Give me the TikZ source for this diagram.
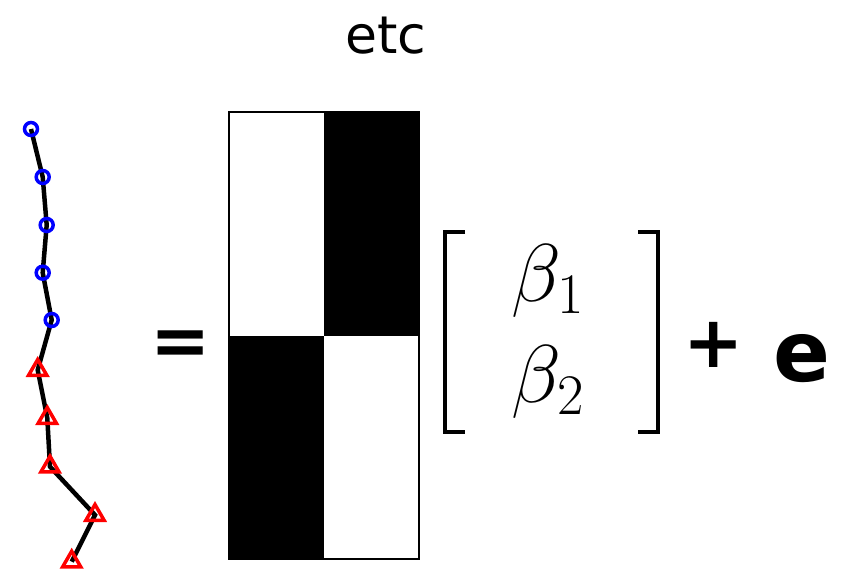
\RequirePackage{fix-cm}
\documentclass[tikz,border=0pt]{standalone}
\usepackage{fontspec}
\setmainfont{DejaVu Sans}
\usetikzlibrary{shapes.geometric}
\begin{document}
\begin{tikzpicture}[x=1pt,y=-1pt,
  circmark/.style={circle,draw=blue,line width=3.5pt,minimum size=13pt,inner sep=0pt},
  trimark/.style={regular polygon,regular polygon sides=3,draw=red,line width=3.5pt,minimum size=21pt,inner sep=0pt},
  plotline/.style={line width=4.5pt,black},
  bigsym/.style={inner sep=0pt,font=\bfseries\fontsize{72}{72}\selectfont},
  betanode/.style={inner sep=0pt,font=\fontsize{82}{82}\selectfont},
  brk/.style={line width=4.5pt,line cap=butt}]
\useasboundingbox[fill=white] (0,0) rectangle (842,568);
% title
\node[inner sep=0pt,font=\fontsize{52}{52}\selectfont] (etc) at (386,36) {etc};
% data points
\coordinate (p1) at (31,129);
\coordinate (p2) at (42.7,177);
\coordinate (p3) at (46.7,225);
\coordinate (p4) at (42.7,272.7);
\coordinate (p5) at (51.7,320);
\coordinate (p6) at (37.7,370);
\coordinate (p7) at (47.3,418);
\coordinate (p8) at (50,466.7);
\coordinate (p9) at (95,515);
\coordinate (p10) at (71.7,561.7);
\draw[plotline] (p1) -- (p2) -- (p3) -- (p4) -- (p5) -- (p6) -- (p7) -- (p8) -- (p9) -- (p10);
\foreach \i in {1,...,5} \node[circmark] (m\i) at (p\i) {};
\foreach \i in {6,...,10} \node[trimark] (m\i) at (p\i) {};
% equals
\node[bigsym] (eq) at (181,348) {=};
% design matrix
\fill[black] (324,112) rectangle (419,336);
\fill[black] (229,336) rectangle (324,559);
\draw[line width=1.5pt] (229,112) rectangle (419,559);
% brackets
\draw[brk] (465,232) -- (445,232) -- (445,432) -- (465,432);
\draw[brk] (638,232) -- (658,232) -- (658,432) -- (638,432);
% betas
\node[betanode] (b1) at (548,281) {$\beta_1$};
\node[betanode] (b2) at (548,382) {$\beta_2$};
% plus e
\node[bigsym] (plus) at (714,345) {+};
\node[bigsym,font=\bfseries\fontsize{84}{84}\selectfont] (e) at (802,359) {e};
\end{tikzpicture}
\end{document}
